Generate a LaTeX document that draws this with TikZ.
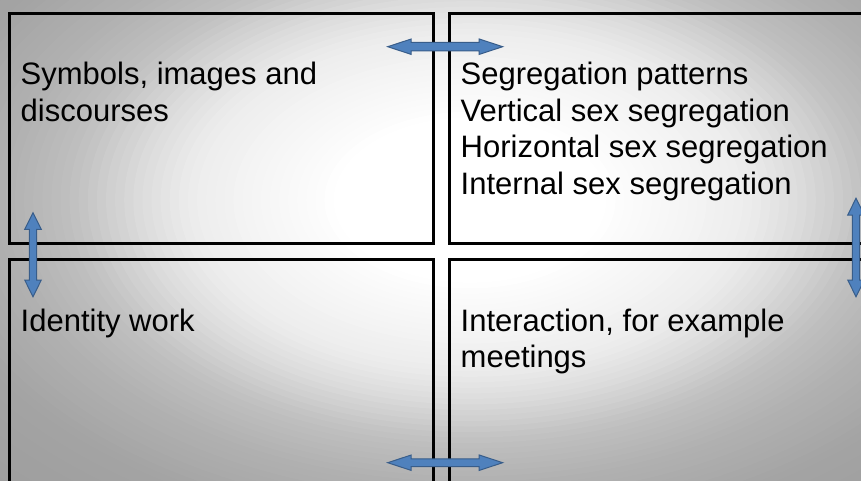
\documentclass[tikz,border=0pt]{standalone}
\usepackage{fontspec}
\setmainfont{Liberation Sans}

\definecolor{arrowfill}{HTML}{4F81BD}
\definecolor{arrowline}{HTML}{385D8A}

\tikzset{
  panel/.style={draw=black, line width=3pt, rectangle, outer sep=0pt,
    inner sep=0pt, anchor=north west},
  boxtext/.style={anchor=base west, inner sep=0pt, align=left,
    font=\fontsize{31}{36.7}\selectfont, text=black},
  blockarrow/.style={fill=arrowfill, draw=arrowline, line width=1pt,
    line join=miter},
  % double-headed block arrow: half length, head length, head half width, shaft half width
  pics/dblarrow/.style n args={4}{code={
    \path[blockarrow] (-#1,0) -- (-#1+#2,-#3) -- (-#1+#2,-#4) -- (#1-#2,-#4)
      -- (#1-#2,-#3) -- (#1,0) -- (#1-#2,#3) -- (#1-#2,#4) -- (-#1+#2,#4)
      -- (-#1+#2,#3) -- cycle;
  }}
}

\begin{document}
\begin{tikzpicture}[x=1pt,y=-1pt]
\useasboundingbox (0,0) rectangle (861,481);
\begin{scope}
  \clip (0,0) rectangle (861,481);
  % background glow: nested ellipses, grey outside, white in the middle
  \foreach \i in {0,...,79} {
    \pgfmathsetmacro\r{1.3*(1-\i/80)}
    \pgfmathsetmacro\g{(\r<0.24) ? 1 : ((\r<0.5) ? 1-0.07*(\r-0.24)/0.26 :
      ((\r<0.6) ? 0.93-0.07*(\r-0.5)/0.1 :
      ((\r<0.72) ? 0.86-0.11*(\r-0.6)/0.12 :
      ((\r<0.82) ? 0.75-0.05*(\r-0.72)/0.1 :
      ((\r<1.0) ? 0.70-0.06*(\r-0.82)/0.18 : 0.64-0.02*min(1,(\r-1)/0.2))))))}
    \definecolor{glowtone}{gray}{\g}
    \fill[glowtone] (470,200) ellipse [x radius=560*\r, y radius=340*\r];
  }

  % the four quadrants
  \node[panel, minimum width=423.8pt, minimum height=229.5pt] (symbols) at (9.5,13.5) {};
  \node[panel, minimum width=424.3pt, minimum height=229.5pt] (segregation) at (449,13.5) {};
  \node[panel, minimum width=423.8pt, minimum height=229.5pt] (identity) at (9.5,259.7) {};
  \node[panel, minimum width=424.3pt, minimum height=229.5pt] (interaction) at (449,259.7) {};

  % quadrant texts (anchored at the baseline of their last line)
  \node[boxtext] (symbolsText) at (20.5,121.2) {Symbols, images and\\discourses};
  \node[boxtext] (segregationText) at (460.5,194.6) {Segregation patterns\\Vertical sex segregation\\Horizontal sex segregation\\Internal sex segregation};
  \node[boxtext] (identityText) at (20.5,331) {Identity work};
  \node[boxtext] (interactionText) at (460.5,367.7) {Interaction, for example\\meetings};

  % linking block arrows
  \pic (arrowTop) at (445.2,46.7) {dblarrow={57.5}{23.5}{7.7}{4.3}};
  \pic (arrowBottom) at (445.2,462.7) {dblarrow={57.5}{23.5}{7.7}{3.9}};
  \pic[rotate=90] (arrowLeft) at (33,254.7) {dblarrow={42}{16.7}{8.3}{3.7}};
  \pic[rotate=90] (arrowRight) at (856,247.5) {dblarrow={49.2}{16.7}{8.3}{3.7}};
\end{scope}
\end{tikzpicture}
\end{document}
